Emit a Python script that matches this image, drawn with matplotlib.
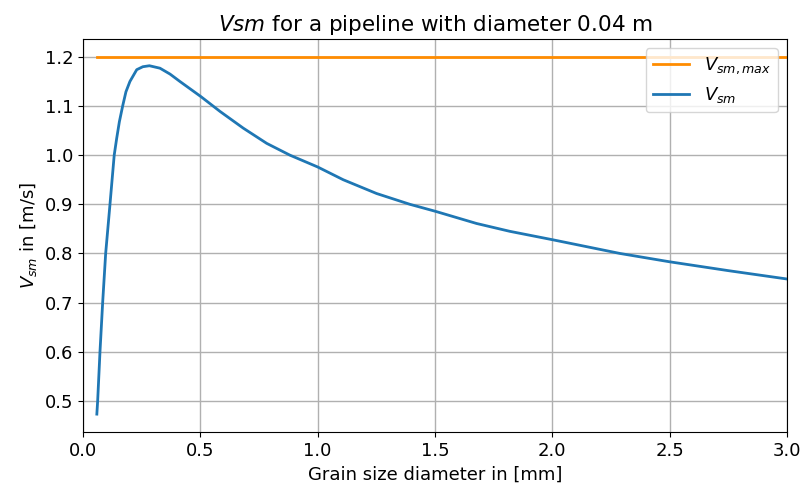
import numpy as np
import matplotlib
matplotlib.use("Agg")
import matplotlib.pyplot as plt

# grain size [mm] and settling-limited mixture velocity [m/s]
d_mm = [0.059, 0.0625, 0.0724, 0.0838, 0.0966, 0.115, 0.133, 0.1435, 0.155,
        0.169, 0.183, 0.200, 0.229, 0.255, 0.283, 0.328, 0.371, 0.413, 0.503,
        0.584, 0.683, 0.783, 0.882, 1.000, 1.109, 1.251, 1.393, 1.500, 1.677,
        1.819, 2.000, 2.288, 2.500, 2.750, 3.000]
vsm = [0.473, 0.500, 0.600, 0.700, 0.800, 0.900, 1.000, 1.034, 1.068,
       1.100, 1.129, 1.150, 1.174, 1.180, 1.182, 1.177, 1.165, 1.150, 1.119,
       1.089, 1.055, 1.024, 1.000, 0.976, 0.950, 0.922, 0.900, 0.886, 0.861,
       0.845, 0.828, 0.800, 0.783, 0.765, 0.748]
vsm_max = 1.2

fig = plt.figure(figsize=(8.05, 4.88), dpi=100)
ax = fig.add_axes([0.1031, 0.1148, 0.8745, 0.8052])

ax.plot([d_mm[0], d_mm[-1]], [vsm_max, vsm_max], color="darkorange", lw=2,
        label=r"$V_{sm,max}$")
ax.plot(d_mm, vsm, color="#1f77b4", lw=2, label=r"$V_{sm}$")

ax.set_xlim(0, 3.0)
ax.set_title(r"$Vsm$ for a pipeline with diameter 0.04 m", fontsize=15.5)
ax.set_xlabel("Grain size diameter in [mm]", fontsize=13)
ax.set_ylabel(r"$V_{sm}$ in [m/s]", fontsize=13)
ax.tick_params(labelsize=13)
ax.grid(True, color="#b0b0b0", lw=1)
ax.legend(loc="upper right", fontsize=13)

fig.savefig("out.png", dpi=100)
